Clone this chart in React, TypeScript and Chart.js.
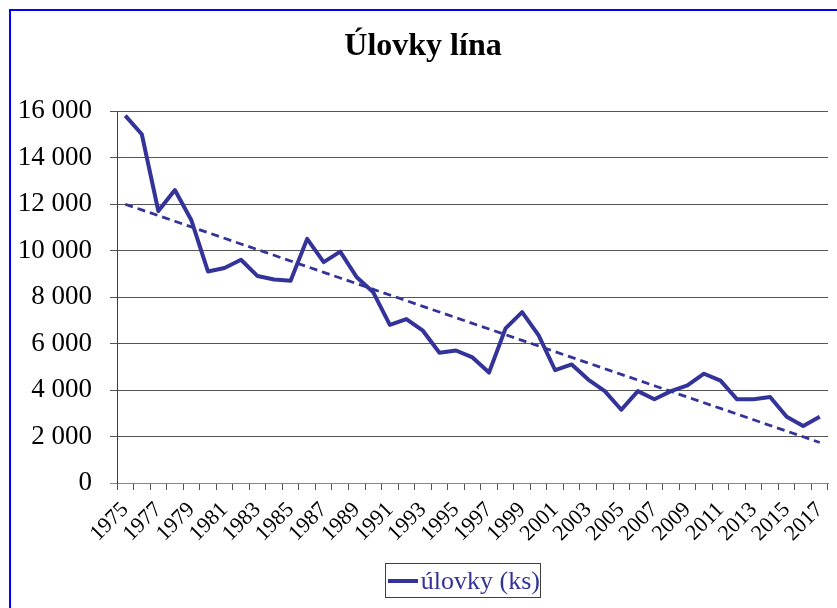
import React, { useEffect, useRef } from "react";
import { Chart, registerables } from "chart.js";

Chart.register(...registerables);

const years: string[] = [
  "1975","1976","1977","1978","1979","1980","1981","1982","1983","1984",
  "1985","1986","1987","1988","1989","1990","1991","1992","1993","1994",
  "1995","1996","1997","1998","1999","2000","2001","2002","2003","2004",
  "2005","2006","2007","2008","2009","2010","2011","2012","2013","2014",
  "2015","2016","2017",
];

const catches: number[] = [
  15800, 15000, 11700, 12600, 11300, 9100, 9250, 9600, 8900, 8750,
  8700, 10500, 9500, 9950, 8850, 8200, 6800, 7050, 6550, 5600,
  5700, 5400, 4750, 6650, 7350, 6350, 4850, 5100, 4450, 3950,
  3150, 3950, 3600, 3950, 4200, 4700, 4400, 3600, 3600, 3700,
  2850, 2450, 2850,
];

const yTicks: number[] = [0, 2000, 4000, 6000, 8000, 10000, 12000, 14000, 16000];

const titleText = "Úlovky lína";
const seriesName = "úlovky (ks)";

// linear trend (least squares), as the spreadsheet trendline does
function linearTrend(values: number[]): number[] {
  const n = values.length;
  let sx = 0, sy = 0, sxx = 0, sxy = 0;
  values.forEach((v, i) => { sx += i; sy += v; sxx += i * i; sxy += i * v; });
  const slope = (n * sxy - sx * sy) / (n * sxx - sx * sx);
  const icpt = (sy - slope * sx) / n;
  return values.map((_, i) => icpt + slope * i);
}

const FONT = "'Liberation Serif', 'Times New Roman', serif";
const LINE = "#333399";

function fmt(v: number): string {
  return String(v).replace(/\B(?=(\d{3})+(?!\d))/g, " ");
}

export default function App() {
  const ref = useRef<HTMLCanvasElement>(null);

  useEffect(() => {
    document.body.style.margin = "0";
    const canvas = ref.current!;
    const chart = new Chart(canvas, {
      type: "line",
      data: {
        labels: years,
        datasets: [
          {
            label: seriesName,
            data: catches,
            borderColor: LINE,
            backgroundColor: LINE,
            borderWidth: 4,
            pointRadius: 0,
            tension: 0,
            borderJoinStyle: "round",
          },
          {
            label: "trend",
            data: linearTrend(catches),
            borderColor: LINE,
            borderWidth: 2.8,
            borderDash: [8, 5],
            pointRadius: 0,
            tension: 0,
          },
        ],
      },
      options: {
        animation: false,
        responsive: false,
        layout: { padding: { left: 18, right: 9, top: 0, bottom: 65 } },
        plugins: {
          legend: { display: false },
          tooltip: { enabled: false },
          title: {
            display: true,
            text: titleText,
            color: "#000",
            font: { family: FONT, size: 32, weight: "bold" },
            padding: { top: 28, bottom: 44.6 },
          },
        },
        scales: {
          x: {
            type: "category",
            offset: true,
            grid: {
              offset: true,
              drawOnChartArea: false,
              drawTicks: true,
              tickLength: 7,
              color: "#555",
            },
            border: { display: true, color: "#888", width: 1 },
            ticks: {
              autoSkip: false,
              minRotation: 45,
              maxRotation: 45,
              padding: 7,
              color: "#000",
              font: { family: FONT, size: 22 },
              callback: (_v: any, i: number) => (i % 2 === 0 ? years[i] : ""),
            },
            afterFit: (s: any) => { s.height = 60; s.paddingLeft = 0; s.paddingRight = 0; },
          },
          y: {
            min: 0,
            max: 16000,
            afterBuildTicks: (s: any) => { s.ticks = yTicks.map((v) => ({ value: v })); },
            grid: {
              color: (ctx: any) => (ctx.tick && ctx.tick.value === 0 ? "#888" : "#555"),
              tickLength: 7,
              drawTicks: true,
            },
            border: { display: true, color: "#404040", width: 1 },
            ticks: {
              padding: 18,
              color: "#000",
              font: { family: FONT, size: 27 },
              callback: (v: any) => fmt(Number(v)),
            },
            afterFit: (s: any) => { s.width = 99; },
          },
        },
      },
    });
    return () => chart.destroy();
  }, []);

  return (
    <div style={{ position: "relative", width: 837, height: 608, overflow: "hidden", background: "#fff" }}>
      <canvas ref={ref} width={837} height={608} style={{ display: "block", width: 837, height: 608 }} />
      <div
        style={{
          position: "absolute", left: 9, top: 9, width: 900, height: 700,
          borderLeft: "2px solid #0000ff", borderTop: "2px solid #0000ff",
          pointerEvents: "none",
        }}
      />
      <div
        style={{
          position: "absolute", left: 385, top: 563, width: 154, height: 33,
          border: "1px solid #404040", display: "flex", alignItems: "center",
          boxSizing: "content-box",
        }}
      >
        <span style={{ display: "inline-block", width: 30, height: 4, background: LINE, marginLeft: 2, marginRight: 3 }} />
        <span style={{ fontFamily: FONT, fontSize: 26, color: LINE, whiteSpace: "nowrap", lineHeight: "33px" }}>{seriesName}</span>
      </div>
    </div>
  );
}
